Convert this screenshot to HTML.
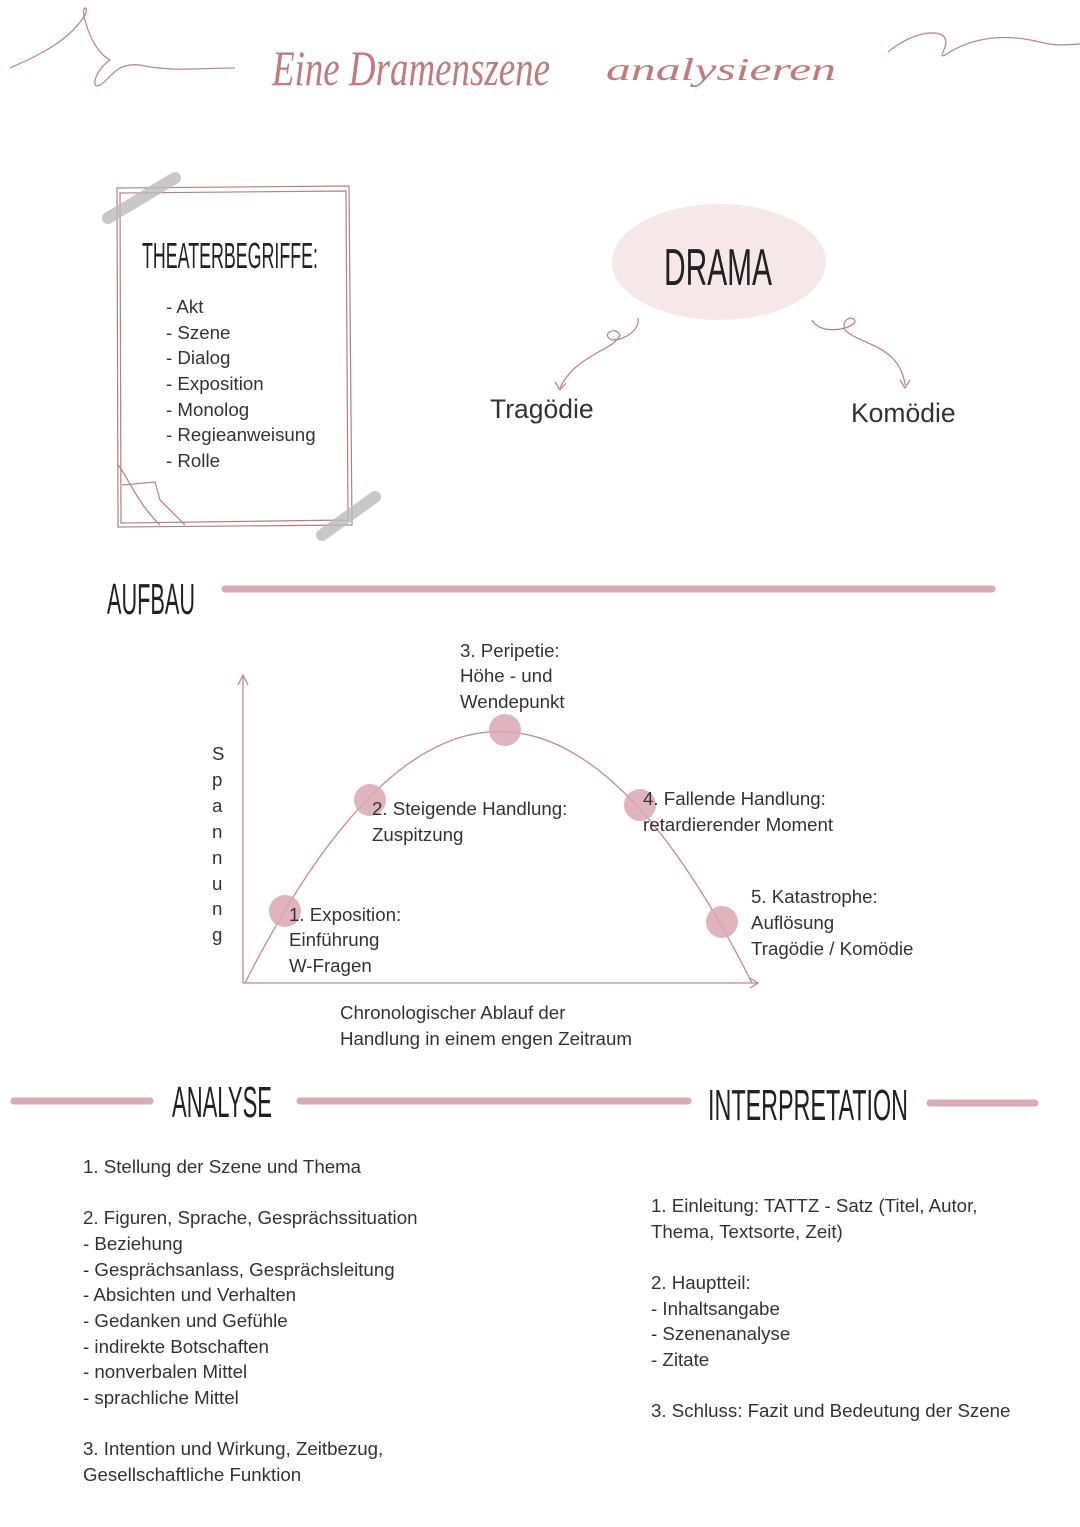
<!DOCTYPE html>
<html><head><meta charset="utf-8"><style>
html,body{margin:0;padding:0;background:#fff}
svg{display:block}
text{font-family:"Liberation Sans",sans-serif;fill:#333}
.b{font-size:18.7px}
.h{font-family:"Liberation Sans Narrow","Liberation Sans",sans-serif;fill:#222}
</style></head><body>
<svg width="1080" height="1527" viewBox="0 0 1080 1527" xmlns="http://www.w3.org/2000/svg">
<g fill="none" stroke="#b88a90" stroke-width="1.3">
<path d="M10 68 C40 55 70 40 85 15 C90 5 80 5 85 20 C90 40 100 55 110 60 C95 70 90 90 100 85 C110 80 115 62 140 65 C170 72 200 68 235 68"/>
<path d="M888 52 C905 38 925 30 940 34 C955 40 935 60 945 55 C960 45 990 30 1040 42 C1055 46 1065 45 1080 44"/>
</g>
<text x="272" y="85" textLength="278" lengthAdjust="spacingAndGlyphs" style="font-family:'Liberation Serif',serif;font-style:italic;font-size:50px;fill:#c17a7e">Eine Dramenszene</text>
<text x="606" y="80" textLength="230" lengthAdjust="spacingAndGlyphs" style="font-family:'Liberation Serif',serif;font-style:italic;font-size:32px;fill:#c17a7e">analysieren</text>

<g fill="none" stroke="#b57f83" stroke-width="1.2">
<path d="M117 188 L349 186 L352 525 L118 527 Z"/>
<path d="M120 193 L346 191 L348 520 L121 523 Z"/>
<path d="M118 465 C130 480 135 500 160 525 M122 485 L155 482 L160 500 L185 525"/>
</g>
<path d="M108 218 L175 178" stroke="#bbb" stroke-width="12" stroke-linecap="round" opacity="0.8"/>
<path d="M322 535 L375 497" stroke="#bbb" stroke-width="12" stroke-linecap="round" opacity="0.8"/>
<text class="h" x="142" y="268" textLength="176" lengthAdjust="spacingAndGlyphs" style="font-size:36px">THEATERBEGRIFFE:</text>
<g class="b">
<text x="166" y="313">- Akt</text><text x="166" y="339">- Szene</text><text x="166" y="364">- Dialog</text>
<text x="166" y="390">- Exposition</text><text x="166" y="416">- Monolog</text><text x="166" y="441">- Regieanweisung</text>
<text x="166" y="467">- Rolle</text></g>

<ellipse cx="719" cy="262" rx="107" ry="58" fill="#f6e8e8"/>
<text class="h" x="664" y="285" textLength="108" lengthAdjust="spacingAndGlyphs" style="font-size:52px">DRAMA</text>
<g fill="none" stroke="#b57f83" stroke-width="1.2">
<path d="M638 318 C640 330 625 340 612 340 C600 335 615 325 620 335 C615 350 575 355 560 388 M555 382 L560 390 L566 383"/>
<path d="M812 320 C820 335 850 330 855 322 C855 315 840 318 845 330 C860 345 900 345 905 385 M900 380 L905 388 L910 380"/>
</g>
<text x="490" y="418" style="font-size:26.5px">Tragödie</text>
<text x="851" y="422" style="font-size:26.5px">Komödie</text>

<text class="h" x="107" y="614" textLength="88" lengthAdjust="spacingAndGlyphs" style="font-size:44px">AUFBAU</text>
<line x1="225" y1="589" x2="992" y2="589" stroke="#dcaab4" stroke-width="7" stroke-linecap="round"/>

<g stroke="#c4898e" fill="none" stroke-width="1.3">
<path d="M243 983 L243 675 M238 685 L243 675 L248 685"/>
<path d="M243 983 L758 983 M750 978 L758 983 L750 988"/>
<path d="M245 983 Q500 480 752 983"/>
</g>
<g fill="#dba7b1" opacity="0.85">
<circle cx="285" cy="911" r="16"/><circle cx="370" cy="800" r="16"/><circle cx="505" cy="730" r="16"/>
<circle cx="640" cy="805" r="16"/><circle cx="722" cy="922" r="16"/></g>
<g class="b">
<text x="212" y="760">S</text><text x="212" y="786">p</text><text x="212" y="812">a</text><text x="212" y="838">n</text>
<text x="212" y="864">n</text><text x="212" y="890">u</text><text x="212" y="915">n</text><text x="212" y="941">g</text>
<text x="460" y="657">3. Peripetie:</text><text x="460" y="682">Höhe - und</text><text x="460" y="708">Wendepunkt</text>
<text x="372" y="815">2. Steigende Handlung:</text><text x="372" y="841">Zuspitzung</text>
<text x="643" y="805">4. Fallende Handlung:</text><text x="643" y="831">retardierender Moment</text>
<text x="289" y="921">1. Exposition:</text><text x="289" y="946">Einführung</text><text x="289" y="972">W-Fragen</text>
<text x="751" y="903">5. Katastrophe:</text><text x="751" y="929">Auflösung</text><text x="751" y="955">Tragödie / Komödie</text>
<text x="340" y="1019">Chronologischer Ablauf der</text><text x="340" y="1045">Handlung in einem engen Zeitraum</text>
</g>

<line x1="14" y1="1101" x2="150" y2="1101" stroke="#dcaab4" stroke-width="7" stroke-linecap="round"/>
<text class="h" x="172" y="1117" textLength="100" lengthAdjust="spacingAndGlyphs" style="font-size:44px">ANALYSE</text>
<line x1="300" y1="1101" x2="688" y2="1101" stroke="#dcaab4" stroke-width="7" stroke-linecap="round"/>
<text class="h" x="708" y="1120" textLength="200" lengthAdjust="spacingAndGlyphs" style="font-size:44px">INTERPRETATION</text>
<line x1="930" y1="1103" x2="1035" y2="1103" stroke="#dcaab4" stroke-width="7" stroke-linecap="round"/>

<g class="b">
<text x="83" y="1173">1. Stellung der Szene und Thema</text>
<text x="83" y="1224">2. Figuren, Sprache, Gesprächssituation</text>
<text x="83" y="1250">- Beziehung</text>
<text x="83" y="1276">- Gesprächsanlass, Gesprächsleitung</text>
<text x="83" y="1301">- Absichten und Verhalten</text>
<text x="83" y="1327">- Gedanken und Gefühle</text>
<text x="83" y="1353">- indirekte Botschaften</text>
<text x="83" y="1378">- nonverbalen Mittel</text>
<text x="83" y="1404">- sprachliche Mittel</text>
<text x="83" y="1455">3. Intention und Wirkung, Zeitbezug,</text>
<text x="83" y="1481">Gesellschaftliche Funktion</text>
<text x="651" y="1212">1. Einleitung: TATTZ - Satz (Titel, Autor,</text>
<text x="651" y="1238">Thema, Textsorte, Zeit)</text>
<text x="651" y="1289">2. Hauptteil:</text>
<text x="651" y="1315">- Inhaltsangabe</text>
<text x="651" y="1340">- Szenenanalyse</text>
<text x="651" y="1366">- Zitate</text>
<text x="651" y="1417">3. Schluss: Fazit und Bedeutung der Szene</text>
</g>
</svg>
</body></html>
